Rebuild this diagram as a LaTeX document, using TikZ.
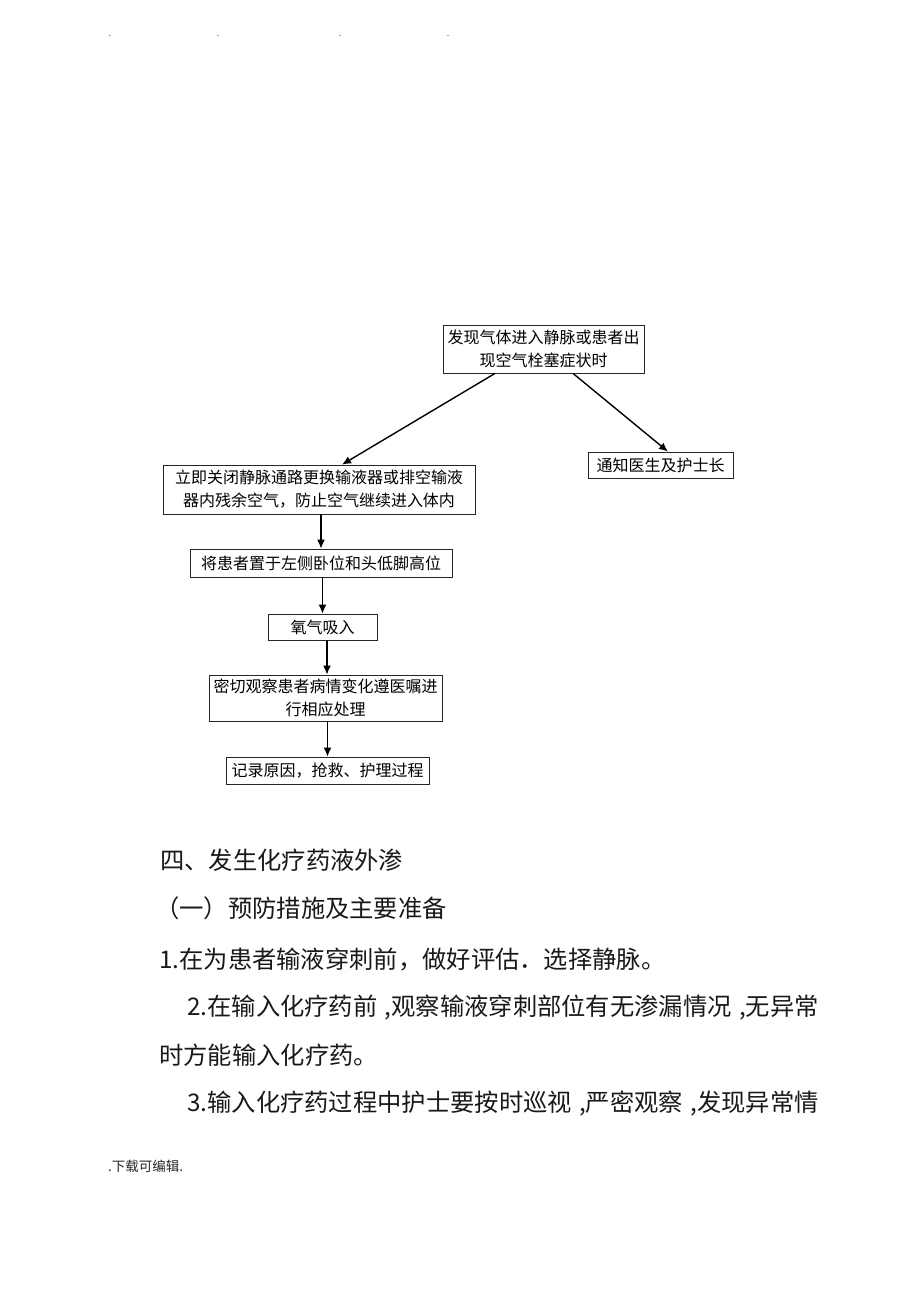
\documentclass[tikz,border=0pt]{standalone}
\usepackage{fontspec}
\newfontfamily\cjk{Noto Sans CJK SC}
\usetikzlibrary{arrows.meta,calc}
\tikzset{
  flowbox/.style={draw=black!85, line width=0.8pt, rectangle, inner sep=0pt, align=center,
    font=\cjk\fontsize{16}{23}\selectfont, text=black},
  flowarrow/.style={line width=1.4pt, -{Latex[length=9pt,width=8pt]}},
  bodytext/.style={anchor=west, inner sep=0pt, font=\cjk\fontsize{24.3}{30}\selectfont, text=black!90},
  foottext/.style={anchor=west, inner sep=0pt, font=\cjk\fontsize{13.5}{16}\selectfont, text=black!85},
  headdot/.style={inner sep=0pt, font=\cjk\fontsize{9}{10}\selectfont, text=black!70}
}
\newcommand{\narrowcomma}{\hspace{0.3em},}
\begin{document}
\begin{tikzpicture}[x=1pt,y=-1pt]
\useasboundingbox[fill=white] (0,0) rectangle (920,1302);
% header dots
\node[headdot] (d1) at (110,36) {.};
\node[headdot] (d2) at (218,36) {.};
\node[headdot] (d3) at (340,36) {.};
\node[headdot] (d4) at (448,36) {.};
% flowchart
\node[flowbox, minimum width=201pt, minimum height=48pt] (top) at (543.5,349) {发现气体进入静脉或患者出\\现空气栓塞症状时};
\node[flowbox, minimum width=145pt, minimum height=26pt] (notify) at (660.5,465) {通知医生及护士长};
\node[flowbox, minimum width=312pt, minimum height=49pt] (close) at (319,489.5) {立即关闭静脉通路更换输液器或排空输液\\器内残余空气，防止空气继续进入体内};
\node[flowbox, minimum width=262pt, minimum height=28pt] (pos) at (321,563) {将患者置于左侧卧位和头低脚高位};
\node[flowbox, minimum width=109pt, minimum height=26pt] (oxy) at (322.5,627) {氧气吸入};
\node[flowbox, minimum width=233pt, minimum height=46pt] (watch) at (325.5,698) {密切观察患者病情变化遵医嘱进\\行相应处理};
\node[flowbox, minimum width=203pt, minimum height=27pt] (rec) at (327.5,770.5) {记录原因，抢救、护理过程};
\draw[flowarrow] ($(top.south)+(-48.5,0)$) -- ($(close.north)+(23,0)$);
\draw[flowarrow] ($(top.south)+(29.5,0)$) -- ($(notify.north)+(7.5,0)$);
\draw[flowarrow] (pos.north |- close.south) -- (pos.north);
\draw[flowarrow] (oxy.north |- pos.south) -- (oxy.north);
\draw[flowarrow] ($(oxy.south)+(4.5,0)$) -- ($(watch.north)+(1.5,0)$);
\draw[flowarrow] (rec.north |- watch.south) -- (rec.north);
% body text
\node[bodytext] (h4) at (160,860) {四、发生化疗药液外渗};
\node[bodytext] (h41) at (155,908) {（一）预防措施及主要准备};
\node[bodytext] (p1) at (159,960) {1.在为患者输液穿刺前，做好评估．选择静脉。};
\node[bodytext] (p2) at (187,1008) {2.在输入化疗药前\narrowcomma 观察输液穿刺部位有无渗漏情况\narrowcomma 无异常};
\node[bodytext] (p2b) at (159,1055) {时方能输入化疗药。};
\node[bodytext] (p3) at (187,1103) {3.输入化疗药过程中护士要按时巡视\narrowcomma 严密观察\narrowcomma 发现异常情};
% footer
\node[foottext] (foot) at (108,1166) {.下载可编辑.};
\end{tikzpicture}
\end{document}
